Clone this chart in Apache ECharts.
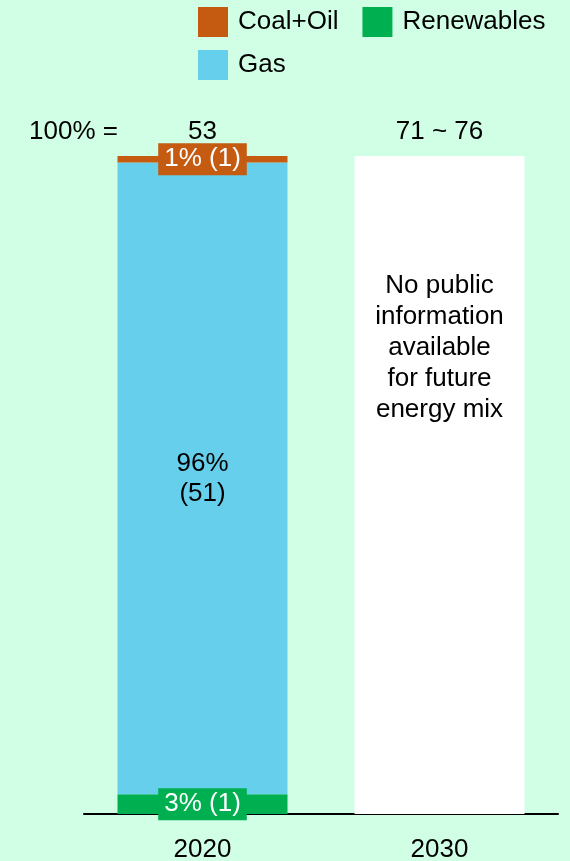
<!DOCTYPE html>
<html>
<head>
<meta charset="utf-8">
<script src="https://cdn.jsdelivr.net/npm/echarts@6/dist/echarts.min.js"></script>
<style>
  html, body { margin: 0; padding: 0; background: #d0ffe6; }
  #chart { width: 570px; height: 861px; }
</style>
</head>
<body>
<div id="chart"></div>
<script>
// Energy mix by year (share in %, absolute values in brackets)
const years = ['2020', '2030'];
const totals = ['53', '71 ~ 76'];
const renewablesShare = [3, null];
const gasShare = [96, null];
const coalOilShare = [1, null];
const renewablesAbs = [1, null];
const gasAbs = [51, null];
const coalOilAbs = [1, null];
const unknownMix = [null, 100];
const unknownText = 'No public\ninformation\navailable\nfor future\nenergy mix';

const COAL = '#c55a11';
const GAS = '#66cfeb';
const RENEW = '#00b050';
const FONT = 'Liberation Sans, Arial, sans-serif';

const chart = echarts.init(document.getElementById('chart'));

function shareLabel(abs, opts) {
  return Object.assign({
    show: true,
    position: 'inside',
    fontFamily: FONT,
    fontSize: 26,
    lineHeight: 26,
    formatter: p => p.value + '% (' + abs[p.dataIndex] + ')'
  }, opts);
}

const legendText = {
  fontFamily: FONT, fontSize: 26, color: '#000',
  padding: [3, 0, 0, 5]
};

chart.setOption({
  backgroundColor: '#d0ffe6',
  animation: false,
  legend: [
    {
      data: ['Coal+Oil', 'Renewables'],
      left: 198, top: 7,
      itemWidth: 30, itemHeight: 30, itemGap: 24,
      padding: 0,
      icon: 'rect',
      textStyle: legendText
    },
    {
      data: ['Gas'],
      left: 198, top: 50,
      itemWidth: 30, itemHeight: 30,
      padding: 0,
      icon: 'rect',
      textStyle: legendText
    }
  ],
  grid: {
    left: 84, right: 12, top: 156, bottom: 47,
    outerBoundsMode: 'none', containLabel: false
  },
  xAxis: [
    {
      type: 'category',
      data: years,
      axisLine: { lineStyle: { color: '#000', width: 2 } },
      axisTick: { show: false },
      axisLabel: { fontFamily: FONT, fontSize: 26, color: '#000', margin: 23 }
    },
    {
      type: 'category',
      position: 'top',
      data: totals,
      axisLine: { show: false },
      axisTick: { show: false },
      axisLabel: { fontFamily: FONT, fontSize: 26, color: '#000', margin: 11 }
    }
  ],
  yAxis: {
    type: 'value', min: 0, max: 100, show: false,
    splitLine: { show: false }
  },
  graphic: [
    {
      type: 'text', left: 29, top: 119,
      style: { text: '100% =', fontFamily: FONT, fontSize: 26, fill: '#000' }
    }
  ],
  series: [
    {
      name: 'Renewables', type: 'bar', stack: 'mix', barWidth: 170,
      data: renewablesShare,
      itemStyle: { color: RENEW },
      label: shareLabel(renewablesAbs, {
        color: '#fff', backgroundColor: RENEW, padding: [3, 6, 3, 6]
      })
    },
    {
      name: 'Gas', type: 'bar', stack: 'mix', barWidth: 170,
      data: gasShare,
      itemStyle: { color: GAS },
      label: shareLabel(gasAbs, {
        color: '#000', lineHeight: 30,
        formatter: p => p.value + '%\n(' + gasAbs[p.dataIndex] + ')'
      })
    },
    {
      name: 'Coal+Oil', type: 'bar', stack: 'mix', barWidth: 170,
      data: coalOilShare,
      itemStyle: { color: COAL },
      label: shareLabel(coalOilAbs, {
        color: '#fff', backgroundColor: COAL, padding: [3, 6, 3, 6]
      })
    },
    {
      name: 'Unknown', type: 'bar', stack: 'mix', barWidth: 170,
      data: unknownMix,
      itemStyle: { color: '#ffffff' },
      label: {
        show: true, position: 'insideTop', distance: 114,
        fontFamily: FONT, fontSize: 26, lineHeight: 31, color: '#000',
        align: 'center',
        formatter: unknownText
      }
    }
  ]
});
</script>
</body>
</html>
